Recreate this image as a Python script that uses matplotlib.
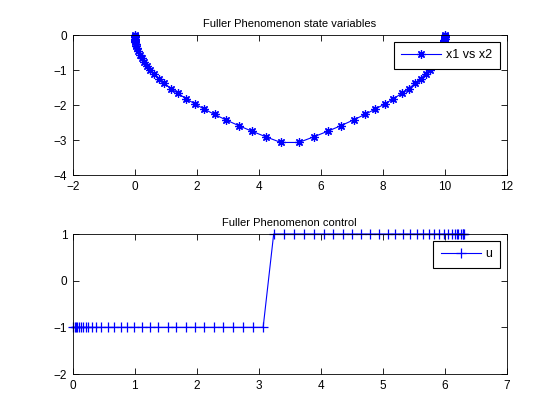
import matplotlib
matplotlib.use("Agg")
import matplotlib.pyplot as plt

# time grid of the control
t_neg = [0, 0.03, 0.05, 0.07, 0.10, 0.13, 0.17, 0.21, 0.25, 0.31, 0.38, 0.46, 0.56, 0.67, 0.77, 0.88,
         0.99, 1.11, 1.25, 1.38, 1.53, 1.67, 1.82, 1.97, 2.12, 2.27, 2.42, 2.59, 2.75, 2.91, 3.07]
t_pos = [3.24, 3.41, 3.56, 3.73, 3.89, 4.05, 4.20, 4.35, 4.51, 4.65, 4.80, 4.94, 5.08, 5.20, 5.33, 5.44,
         5.55, 5.65, 5.75, 5.83, 5.91, 5.99, 6.05, 6.11, 6.16, 6.19, 6.22, 6.26, 6.29, 6.30, 6.31]
u_neg = [-1] * len(t_neg)
u_pos = [1] * len(t_pos)

# state trajectory (upper plot)
x1_a = [0, 0.0, 0.001, 0.002, 0.005, 0.008, 0.014, 0.022, 0.031, 0.048, 0.072, 0.106, 0.157, 0.224, 0.296,
        0.387, 0.49, 0.616, 0.781, 0.952, 1.17, 1.394, 1.656, 1.94, 2.247, 2.576, 2.928, 3.354, 3.781, 4.234, 4.712]
x2_a = [0, -0.03, -0.05, -0.07, -0.10, -0.13, -0.17, -0.21, -0.25, -0.31, -0.38, -0.46, -0.56, -0.67, -0.77,
        -0.88, -0.99, -1.11, -1.25, -1.38, -1.53, -1.67, -1.82, -1.97, -2.12, -2.27, -2.42, -2.59, -2.75, -2.91, -3.07]
x1_b = [5.29, 5.77, 6.22, 6.65, 7.07, 7.42, 7.75, 8.06, 8.34, 8.61, 8.83, 9.05, 9.22, 9.38, 9.51, 9.61,
        9.70, 9.78, 9.84, 9.89, 9.93, 9.95, 9.97, 9.98, 9.99, 9.99, 10.0, 10.0, 10.0, 10.0, 10.0]
x2_b = [-3.07, -2.91, -2.75, -2.59, -2.42, -2.27, -2.12, -1.97, -1.82, -1.67, -1.53, -1.38, -1.25, -1.11,
        -0.99, -0.88, -0.77, -0.67, -0.56, -0.46, -0.38, -0.31, -0.25, -0.21, -0.17, -0.13, -0.10, -0.07,
        -0.05, -0.03, 0.0]

plt.rcParams['font.family'] = ['Liberation Sans', 'DejaVu Sans']
plt.rcParams['font.size'] = 8

fig = plt.figure(figsize=(5.6, 4.2), dpi=100)
ax1 = fig.add_axes([0.130, 0.5833, 0.775, 0.3333])
ax2 = fig.add_axes([0.130, 0.1095, 0.775, 0.3333])

asterisk = (8, 2, 0)
ax1.plot(x1_a + x1_b, x2_a + x2_b, color='b', lw=0.8, marker=asterisk, ms=6, mew=0.9,
         clip_on=False, label='x1 vs x2')
ax1.set_xlim(-2, 12)
ax1.set_ylim(-4, 0)
ax1.set_xticks(range(-2, 13, 2))
ax1.set_yticks(range(-4, 1))
ax1.set_title('Fuller Phenomenon state variables', fontsize=8, pad=6)

ax2.plot(t_neg + t_pos, u_neg + u_pos, color='b', lw=0.8, marker='+', ms=7, mew=0.9,
         clip_on=False, label='u')
ax2.set_xlim(0, 7)
ax2.set_ylim(-2, 1)
ax2.set_xticks(range(0, 8))
ax2.set_yticks(range(-2, 2))
ax2.set_title('Fuller Phenomenon control', fontsize=8, pad=6)

for ax in (ax1, ax2):
    ax.tick_params(direction='in', top=True, right=True, length=4, width=0.6, labelsize=8.5, pad=4)
    for s in ax.spines.values():
        s.set_linewidth(0.6)
    leg = ax.legend(loc='upper right', fancybox=False, edgecolor='k', framealpha=1,
                    handlelength=3.2, handletextpad=0.4, borderpad=0.6,
                    borderaxespad=0.55, fontsize=9)
    leg.get_frame().set_linewidth(0.8)
    leg.set_zorder(5)

fig.savefig('out.png', dpi=100)
